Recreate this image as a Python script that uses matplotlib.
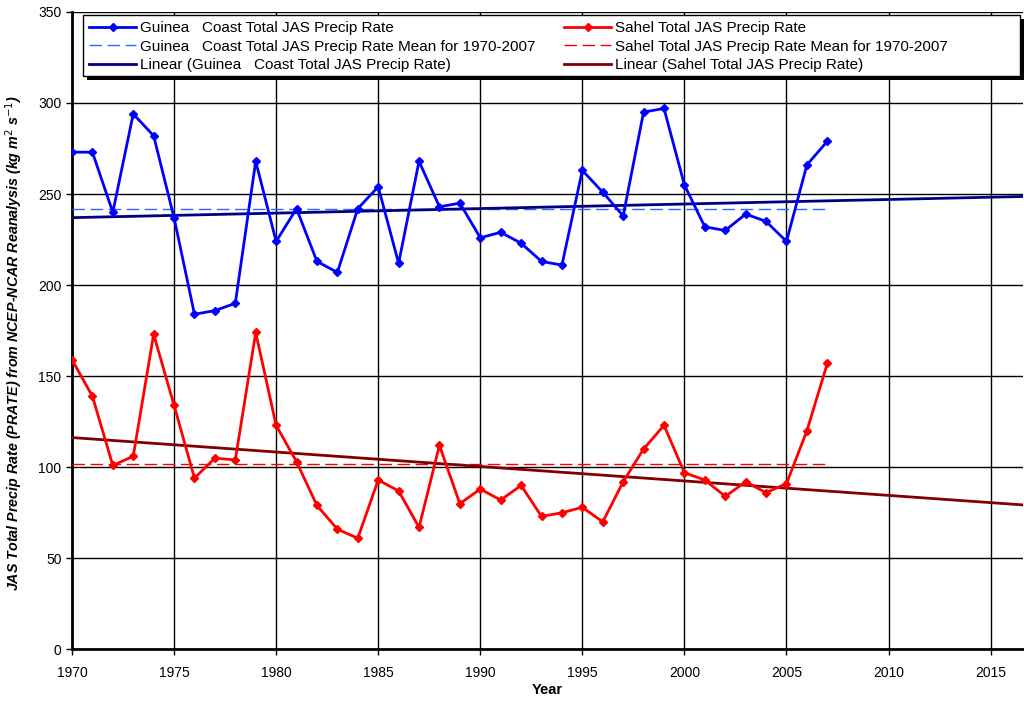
import numpy as np
import matplotlib
matplotlib.use("Agg")
import matplotlib.pyplot as plt
from matplotlib.patches import Rectangle

plt.rcParams["font.family"] = ["Liberation Sans", "DejaVu Sans"]

# JAS precipitation rate, 1970-2007
years = np.arange(1970, 2008)
guinea = [273, 273, 240, 294, 282, 237, 184, 186, 190, 268,
          224, 242, 213, 207, 242, 254, 212, 268, 243, 245,
          226, 229, 223, 213, 211, 263, 251, 238, 295, 297,
          255, 232, 230, 239, 235, 224, 266, 279]
sahel = [159, 139, 101, 106, 173, 134, 94, 105, 104, 174,
         123, 103, 79, 66, 61, 93, 87, 67, 112, 80,
         88, 82, 90, 73, 75, 78, 70, 92, 110, 123,
         97, 93, 84, 92, 86, 91, 120, 157]
trend_end = 2017

guinea = np.array(guinea, dtype=float)
sahel = np.array(sahel, dtype=float)

fig = plt.figure(figsize=(10.24, 7.02), dpi=100)
ax = fig.add_axes([0.0703, 0.075, 0.929, 0.908])

trend_x = np.arange(1970, trend_end + 1)
g_fit = np.polyfit(years, guinea, 1)
s_fit = np.polyfit(years, sahel, 1)

ax.plot(years, guinea, color="#0000ff", lw=2, marker="D", ms=4.5,
        label="Guinea   Coast Total JAS Precip Rate", zorder=5)
ax.plot([years[0], years[-1]], [guinea.mean()] * 2, color="#3366ff",
        lw=1, dashes=(9, 4),
        label="Guinea   Coast Total JAS Precip Rate Mean for 1970-2007", zorder=3)
ax.plot(trend_x, np.polyval(g_fit, trend_x), color="#000080", lw=2,
        label="Linear (Guinea   Coast Total JAS Precip Rate)", zorder=4)

ax.plot(years, sahel, color="#ff0000", lw=2, marker="D", ms=4.5,
        label="Sahel Total JAS Precip Rate", zorder=5)
ax.plot([years[0], years[-1]], [sahel.mean()] * 2, color="#ff0000",
        lw=1, dashes=(9, 4),
        label="Sahel Total JAS Precip Rate Mean for 1970-2007", zorder=3)
ax.plot(trend_x, np.polyval(s_fit, trend_x), color="#800000", lw=2,
        label="Linear (Sahel Total JAS Precip Rate)", zorder=4)

ax.set_xlim(1970, 2016.6)
ax.set_ylim(0, 350)
ax.set_xticks(np.arange(1970, 2016, 5))
ax.set_yticks(np.arange(0, 351, 50))
ax.grid(True, color="black", lw=1)
ax.set_axisbelow(True)
ax.tick_params(direction="out", length=4, width=1, labelsize=10, colors="black")
ax.tick_params(axis="x", pad=8)

for side in ("top", "right"):
    ax.spines[side].set_visible(False)
for side in ("left", "bottom"):
    ax.spines[side].set_linewidth(2)

ax.set_xlabel("Year", fontsize=10.5, fontweight="bold", labelpad=2)
ax.set_ylabel("JAS Total Precip Rate (PRATE) from NCEP-NCAR Reanalysis (kg m$^{2}$ s$^{-1}$)",
              fontsize=10.3, fontweight="bold", style="italic")
ax.yaxis.set_label_coords(-0.049, 0.48)

# legend box with a solid drop shadow, legend entries drawn on top
box = (0.0116, 0.899, 0.985, 0.096)
shadow = Rectangle((box[0] + 0.004, box[1] - 0.006), box[2], box[3],
                   transform=ax.transAxes, facecolor="black", edgecolor="none",
                   zorder=9, clip_on=False)
frame = Rectangle(box[:2], box[2], box[3], transform=ax.transAxes,
                  facecolor="white", edgecolor="black", lw=1, zorder=9.5,
                  clip_on=False)
ax.add_patch(shadow)
ax.add_patch(frame)

leg = ax.legend(loc="upper left", bbox_to_anchor=(box[0], box[1] + box[3]),
                ncol=2, fontsize=11, frameon=False,
                handlelength=3.1, handletextpad=0.25, columnspacing=1.85,
                labelspacing=0.3, borderpad=0.4, borderaxespad=0)
leg.set_zorder(10)

fig.savefig("out.png", dpi=100)
